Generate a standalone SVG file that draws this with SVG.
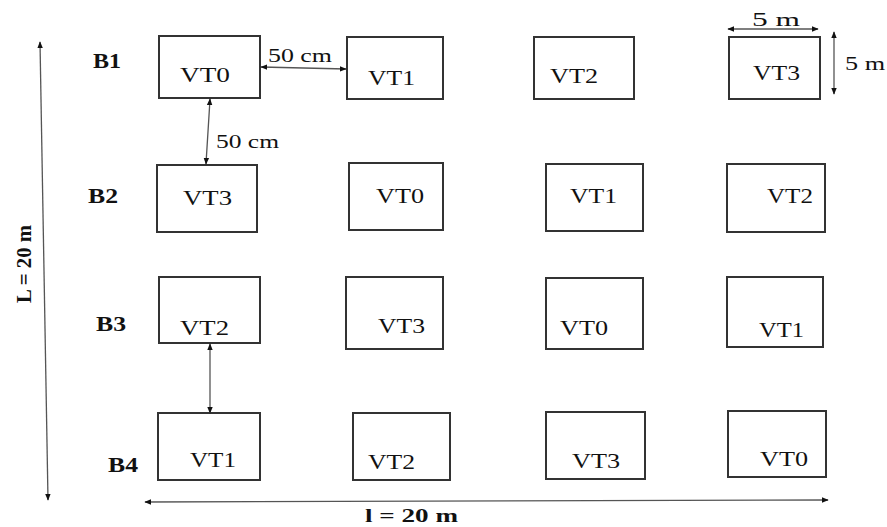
<svg xmlns="http://www.w3.org/2000/svg" width="887" height="527" viewBox="0 0 887 527">
<style>
.box{fill:#fff;stroke:#333;stroke-width:2}
.vt{font-family:"Liberation Serif",serif;font-size:22px;fill:#111}
.bl{font-family:"Liberation Serif",serif;font-size:21px;font-weight:bold;fill:#111}
.dim{font-family:"Liberation Serif",serif;font-size:19px;fill:#111}
.ar{stroke:#555;stroke-width:1.3;fill:none;marker-start:url(#ah);marker-end:url(#ah)}
</style>
<defs>
<marker id="ah" viewBox="0 0 10 10" refX="9" refY="5" markerWidth="7" markerHeight="7" markerUnits="userSpaceOnUse" orient="auto-start-reverse">
<path d="M0,1 L10,5 L0,9 z" fill="#111"/>
</marker>
</defs>
<rect width="887" height="527" fill="#fff"/>
<g id="labels">
<text class="bl" x="93" y="68" textLength="28" lengthAdjust="spacingAndGlyphs">B1</text>
<text class="bl" x="88" y="203" textLength="30" lengthAdjust="spacingAndGlyphs">B2</text>
<text class="bl" x="96" y="331" textLength="30" lengthAdjust="spacingAndGlyphs">B3</text>
<text class="bl" x="108" y="472" textLength="30" lengthAdjust="spacingAndGlyphs">B4</text>
<text class="bl" transform="translate(31,264) rotate(-90)" text-anchor="middle" textLength="78" lengthAdjust="spacingAndGlyphs">L = 20 m</text>
<text class="bl" style="font-size:19px" x="365" y="522" textLength="93" lengthAdjust="spacingAndGlyphs">l = 20 m</text>
</g>
<g id="B1-VT0"><rect class="box" x="159" y="36" width="101" height="62"/><text class="vt" x="180" y="82" textLength="50" lengthAdjust="spacingAndGlyphs">VT0</text></g>
<g id="B1-VT1"><rect class="box" x="347" y="37" width="96" height="62"/><text class="vt" x="368" y="85" textLength="47" lengthAdjust="spacingAndGlyphs">VT1</text></g>
<g id="B1-VT2"><rect class="box" x="534" y="37" width="100" height="62"/><text class="vt" x="550" y="83" textLength="48" lengthAdjust="spacingAndGlyphs">VT2</text></g>
<g id="B1-VT3"><rect class="box" x="729" y="37" width="91" height="62"/><text class="vt" x="753" y="80" textLength="47" lengthAdjust="spacingAndGlyphs">VT3</text></g>
<g id="B2-VT3"><rect class="box" x="157" y="165" width="100" height="67"/><text class="vt" x="183" y="205" textLength="49" lengthAdjust="spacingAndGlyphs">VT3</text></g>
<g id="B2-VT0"><rect class="box" x="349" y="163" width="94" height="67"/><text class="vt" x="376" y="203" textLength="48" lengthAdjust="spacingAndGlyphs">VT0</text></g>
<g id="B2-VT1"><rect class="box" x="546" y="164" width="97" height="67"/><text class="vt" x="570" y="203" textLength="47" lengthAdjust="spacingAndGlyphs">VT1</text></g>
<g id="B2-VT2"><rect class="box" x="727" y="164" width="98" height="68"/><text class="vt" x="767" y="203" textLength="46" lengthAdjust="spacingAndGlyphs">VT2</text></g>
<g id="B3-VT2"><rect class="box" x="159" y="277" width="101" height="66"/><text class="vt" x="180" y="335" textLength="49" lengthAdjust="spacingAndGlyphs">VT2</text></g>
<g id="B3-VT3"><rect class="box" x="346" y="277" width="97" height="72"/><text class="vt" x="378" y="333" textLength="47" lengthAdjust="spacingAndGlyphs">VT3</text></g>
<g id="B3-VT0"><rect class="box" x="546" y="278" width="97" height="71"/><text class="vt" x="560" y="335" textLength="48" lengthAdjust="spacingAndGlyphs">VT0</text></g>
<g id="B3-VT1"><rect class="box" x="727" y="277" width="96" height="70"/><text class="vt" x="759" y="337" textLength="45" lengthAdjust="spacingAndGlyphs">VT1</text></g>
<g id="B4-VT1"><rect class="box" x="158" y="413" width="102" height="67"/><text class="vt" x="190" y="467" textLength="46" lengthAdjust="spacingAndGlyphs">VT1</text></g>
<g id="B4-VT2"><rect class="box" x="353" y="413" width="97" height="67"/><text class="vt" x="368" y="469" textLength="47" lengthAdjust="spacingAndGlyphs">VT2</text></g>
<g id="B4-VT3"><rect class="box" x="546" y="412" width="99" height="67"/><text class="vt" x="572" y="468" textLength="48" lengthAdjust="spacingAndGlyphs">VT3</text></g>
<g id="B4-VT0"><rect class="box" x="728" y="411" width="98" height="66"/><text class="vt" x="760" y="466" textLength="48" lengthAdjust="spacingAndGlyphs">VT0</text></g>
<g id="connectors">
<line class="ar" x1="40" y1="42" x2="48" y2="500"/>
<line class="ar" x1="145" y1="502" x2="828" y2="500"/>
<line class="ar" x1="261" y1="67" x2="346" y2="69"/>
<line class="ar" x1="210" y1="99" x2="206" y2="164"/>
<line class="ar" x1="210" y1="344" x2="210" y2="413"/>
<line class="ar" x1="728" y1="29" x2="818" y2="29"/>
<line class="ar" x1="834" y1="32" x2="834" y2="94"/>
<text class="dim" x="268" y="62" textLength="64" lengthAdjust="spacingAndGlyphs">50 cm</text>
<text class="dim" x="216" y="148" textLength="63" lengthAdjust="spacingAndGlyphs">50 cm</text>
<text class="dim" x="752" y="26" textLength="48" lengthAdjust="spacingAndGlyphs">5 m</text>
<text class="dim" x="845" y="70" textLength="40" lengthAdjust="spacingAndGlyphs">5 m</text>
</g>
</svg>
